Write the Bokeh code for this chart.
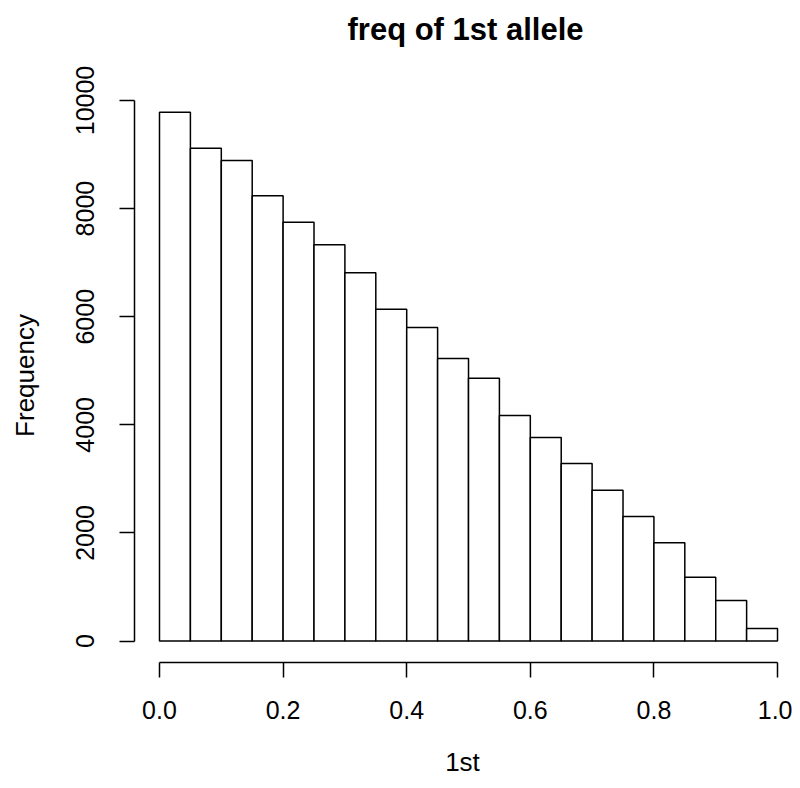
from bokeh.plotting import figure
from bokeh.models import FixedTicker, PrintfTickFormatter, Range1d, Title
from bokeh.embed import file_html
from bokeh.resources import INLINE

# Histogram data
bin_left = [0.00, 0.05, 0.10, 0.15, 0.20, 0.25, 0.30, 0.35, 0.40, 0.45,
            0.50, 0.55, 0.60, 0.65, 0.70, 0.75, 0.80, 0.85, 0.90, 0.95]
bin_right = [0.05, 0.10, 0.15, 0.20, 0.25, 0.30, 0.35, 0.40, 0.45, 0.50,
             0.55, 0.60, 0.65, 0.70, 0.75, 0.80, 0.85, 0.90, 0.95, 1.00]
counts = [9783, 9117, 8890, 8237, 7748, 7330, 6812, 6139, 5800, 5227,
          4862, 4172, 3768, 3284, 2790, 2303, 1817, 1180, 749, 231]
bottoms = [0] * len(counts)

x_ticks = [0.0, 0.2, 0.4, 0.6, 0.8, 1.0]
y_ticks = [0, 2000, 4000, 6000, 8000, 10000]
title_text = "freq of 1st allele"

FONT = "Liberation Sans"

p = figure(width=792, height=780, output_backend="svg", toolbar_location=None,
           min_border_left=134, min_border_right=2, min_border_top=88,
           min_border_bottom=118,
           x_range=Range1d(-0.04045, 1.021), y_range=Range1d(-396, 10222))

p.quad(left=bin_left, right=bin_right, bottom=bottoms, top=counts,
       fill_color="white", line_color="black", line_width=1.5)

p.outline_line_color = None
p.grid.visible = False
p.background_fill_color = "white"
p.border_fill_color = "white"

# spacer panel next to the frame, then the real title above it
spacer = Title(text=" ", text_font_size="2px", standoff=38, text_color="white")
p.add_layout(spacer, "above")
main_title = Title(text=title_text, text_font=FONT, text_font_size="31px",
                   text_font_style="bold", text_color="black",
                   align="left", offset=213, standoff=0)
p.add_layout(main_title, "above")

for ax in (p.xaxis[0], p.yaxis[0]):
    ax.axis_line_color = "black"
    ax.axis_line_width = 1.5
    ax.major_tick_line_color = "black"
    ax.major_tick_line_width = 1.5
    ax.major_tick_out = 15
    ax.major_tick_in = 0
    ax.minor_tick_out = 0
    ax.minor_tick_in = 0
    ax.major_label_text_font = FONT
    ax.major_label_text_font_size = "25px"
    ax.major_label_text_color = "black"
    ax.axis_label_text_font = FONT
    ax.axis_label_text_font_size = "26px"
    ax.axis_label_text_font_style = "normal"
    ax.axis_label_text_color = "black"

xa = p.xaxis[0]
xa.ticker = FixedTicker(ticks=x_ticks)
xa.formatter = PrintfTickFormatter(format="%.1f")
xa.bounds = (0, 1)
xa.axis_label = "1st"
xa.major_label_standoff = 23
xa.axis_label_standoff = 25

ya = p.yaxis[0]
ya.ticker = FixedTicker(ticks=y_ticks)
ya.formatter = PrintfTickFormatter(format="%d")
ya.bounds = (0, 10000)
ya.axis_label = "Frequency"
ya.major_label_orientation = "vertical"
ya.major_label_standoff = 25
ya.axis_label_standoff = 34

open("out.html", "w").write(file_html(p, INLINE))
